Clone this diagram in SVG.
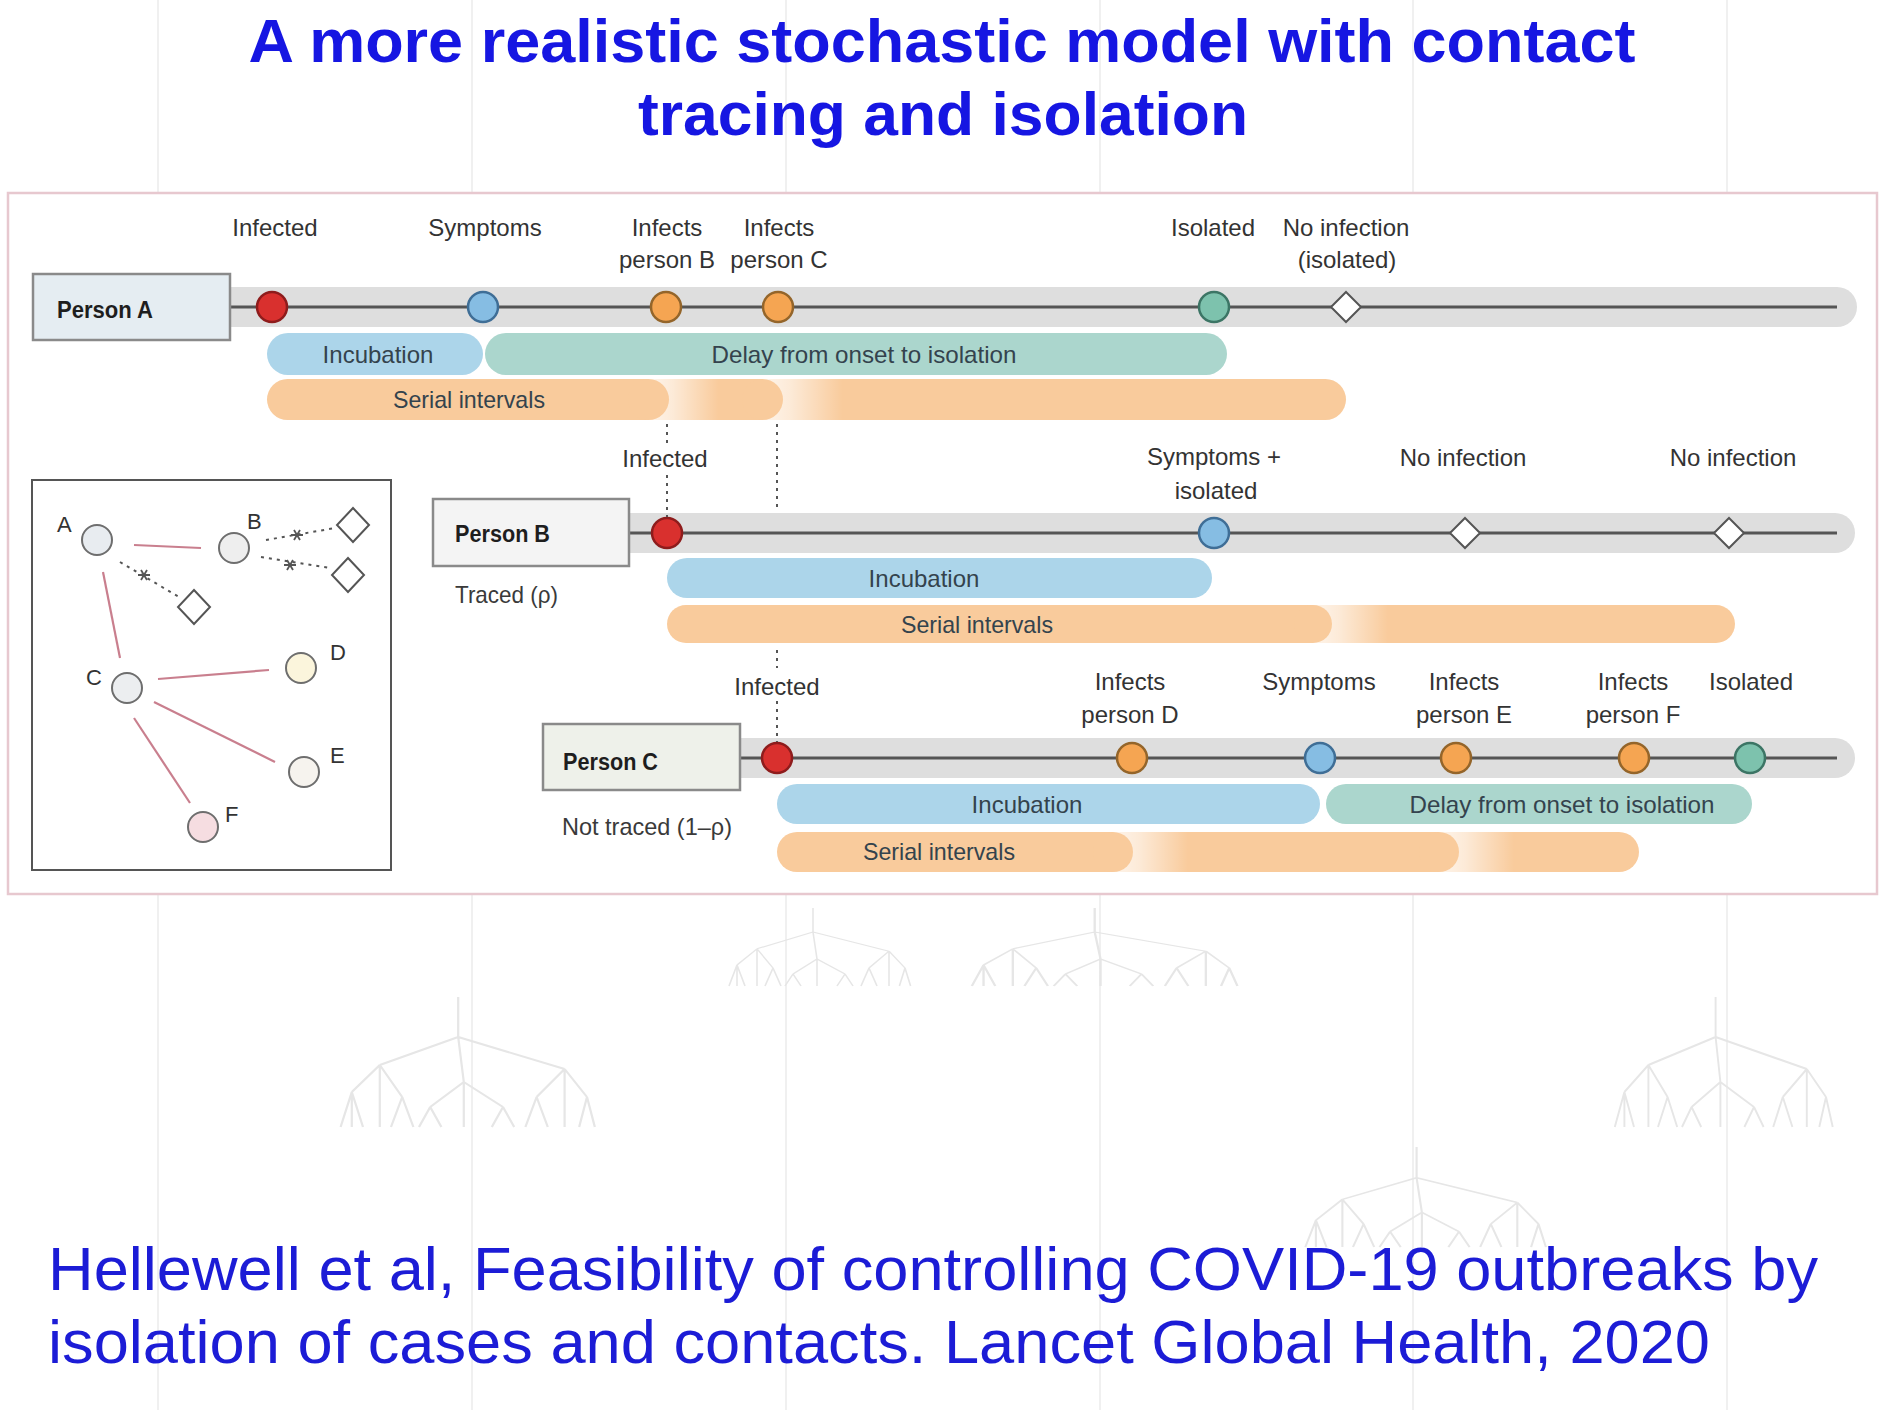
<svg xmlns="http://www.w3.org/2000/svg" xmlns:xlink="http://www.w3.org/1999/xlink" width="1882" height="1410" viewBox="0 0 1882 1410">
<style>
.lbl{font-family:"Liberation Sans",Arial,sans-serif;font-size:24px;fill:#333;text-anchor:middle}
.pill{font-family:"Liberation Sans",Arial,sans-serif;font-size:24px;fill:#34434d;text-anchor:middle}
.pname{font-family:"Liberation Sans",Arial,sans-serif;font-size:23px;font-weight:bold;fill:#1e1e1e}
.sub{font-family:"Liberation Sans",Arial,sans-serif;font-size:24px;fill:#3a3a3a}
.glbl{font-family:"Liberation Sans",Arial,sans-serif;font-size:22px;fill:#333}
.title{font-family:"Liberation Sans",Arial,sans-serif;font-size:62px;font-weight:bold;fill:#1616e2}
.cite{font-family:"Liberation Sans",Arial,sans-serif;font-size:61px;fill:#1c1cd6}
.band{fill:#dedede}
.axis{stroke:#555;stroke-width:3}
.box{stroke:#8a8a8a;stroke-width:2.5}
.inc{fill:#acd5ea}
.del{fill:#abd6cd}
.ser{fill:#f9cb9c}
.red{fill:#d9302e;stroke:#8e1c1c;stroke-width:2.5}
.blue{fill:#86bde3;stroke:#3f6e96;stroke-width:2.5}
.orange{fill:#f5a552;stroke:#94652a;stroke-width:2.5}
.teal{fill:#7dc2ad;stroke:#3c7565;stroke-width:2.5}
.dia{fill:#fff;stroke:#555;stroke-width:2}
.dot{stroke:#555;stroke-width:2;stroke-dasharray:3 5;fill:none}
.edge{stroke:#c97f8e;stroke-width:2.2}
.gnode{stroke:#6e6e6e;stroke-width:2}
.bgline{stroke:#f0f0f0;stroke-width:2}
.tree{fill:none;stroke:#e6e6e6;stroke-width:2}
</style>
<defs>
<linearGradient id="fade" x1="0" y1="0" x2="1" y2="0">
<stop offset="0" stop-color="#fff" stop-opacity="0.8"/>
<stop offset="0.35" stop-color="#fff" stop-opacity="0.6"/>
<stop offset="1" stop-color="#fff" stop-opacity="0"/>
</linearGradient>
<path id="tree" d="M110 0 V40 M110 40 L40 68 M110 40 L205 72 M110 40 L115 85 M40 68 L15 95 M40 68 L60 100 M40 68 V130 M15 95 V130 M15 95 L5 130 M15 95 L25 130 M60 100 L50 130 M60 100 L70 130 M115 85 L85 110 M115 85 L150 110 M115 85 V130 M85 110 L75 130 M85 110 L95 130 M150 110 L140 130 M150 110 L160 130 M205 72 L180 100 M205 72 L225 100 M205 72 V130 M180 100 L170 130 M180 100 L190 130 M225 100 L218 130 M225 100 L232 130"/>
<path id="star" d="M-6 0 H6 M-3 -5 L3 5 M3 -5 L-3 5"/>
</defs>

<rect width="1882" height="1410" fill="#fff"/>

<g id="background">
<line class="bgline" x1="158" y1="0" x2="158" y2="1410"/>
<line class="bgline" x1="472" y1="0" x2="472" y2="1410"/>
<line class="bgline" x1="786" y1="0" x2="786" y2="1410"/>
<line class="bgline" x1="1100" y1="0" x2="1100" y2="1410"/>
<line class="bgline" x1="1413" y1="0" x2="1413" y2="1410"/>
<line class="bgline" x1="1727" y1="0" x2="1727" y2="1410"/>
<use xlink:href="#tree" class="tree" transform="translate(335,997) scale(1.12,1)"/>
<use xlink:href="#tree" class="tree" transform="translate(1610,997) scale(0.96,1)"/>
<use xlink:href="#tree" class="tree" transform="translate(1300,1147) scale(1.06,0.77)"/>
<use xlink:href="#tree" class="tree" transform="translate(725,908) scale(0.8,0.6)"/>
<use xlink:href="#tree" class="tree" transform="translate(966,908) scale(1.17,0.6)"/>
</g>

<g id="title">
<text class="title" x="942" y="62" text-anchor="middle" textLength="1387" lengthAdjust="spacingAndGlyphs">A more realistic stochastic model with contact</text>
<text class="title" x="943" y="135" text-anchor="middle" textLength="610" lengthAdjust="spacingAndGlyphs">tracing and isolation</text>
</g>

<g id="panel">
<rect x="8" y="193" width="1869" height="701" fill="#fff" stroke="#e7c8cf" stroke-width="2.5"/>
</g>

<!-- Person A -->
<g id="personA">
<rect class="band" x="210" y="287" width="1647" height="40" rx="20"/>
<line class="axis" x1="230" y1="307" x2="1837" y2="307"/>
<rect class="box" x="33" y="274" width="197" height="66" fill="#e5edf2"/>
<text class="pname" x="57" y="318" textLength="96" lengthAdjust="spacingAndGlyphs">Person A</text>
<circle class="red" cx="272" cy="307" r="15"/>
<circle class="blue" cx="483" cy="307" r="15"/>
<circle class="orange" cx="666" cy="307" r="15"/>
<circle class="orange" cx="778" cy="307" r="15"/>
<circle class="teal" cx="1214" cy="307" r="15"/>
<polygon class="dia" points="1346,292 1361,307 1346,322 1331,307"/>
<text class="lbl" x="275" y="236">Infected</text>
<text class="lbl" x="485" y="236">Symptoms</text>
<text class="lbl" x="667" y="236">Infects</text>
<text class="lbl" x="667" y="268">person B</text>
<text class="lbl" x="779" y="236">Infects</text>
<text class="lbl" x="779" y="268">person C</text>
<text class="lbl" x="1213" y="236">Isolated</text>
<text class="lbl" x="1346" y="236">No infection</text>
<text class="lbl" x="1347" y="268">(isolated)</text>
<rect class="inc" x="267" y="333" width="216" height="42" rx="21"/>
<rect class="del" x="485" y="333" width="742" height="42" rx="21"/>
<text class="pill" x="378" y="363">Incubation</text>
<text class="pill" x="864" y="363" textLength="305" lengthAdjust="spacingAndGlyphs">Delay from onset to isolation</text>
<rect class="ser" x="267" y="379" width="1079" height="41" rx="20.5"/>
<rect x="648.5" y="379" width="70" height="41" fill="url(#fade)"/>
<circle class="ser" cx="648.5" cy="399.5" r="20.5"/>
<rect x="762.5" y="379" width="80" height="41" fill="url(#fade)"/>
<circle class="ser" cx="762.5" cy="399.5" r="20.5"/>
<text class="pill" x="469" y="408" textLength="152" lengthAdjust="spacingAndGlyphs">Serial intervals</text>
</g>

<!-- Person B -->
<g id="personB">
<rect class="band" x="610" y="513" width="1245" height="40" rx="20"/>
<line class="axis" x1="629" y1="533" x2="1837" y2="533"/>
<rect class="box" x="433" y="499" width="196" height="67" fill="#f4f4f4"/>
<text class="pname" x="455" y="542" textLength="95" lengthAdjust="spacingAndGlyphs">Person B</text>
<text class="sub" x="455" y="603" textLength="103" lengthAdjust="spacingAndGlyphs">Traced (ρ)</text>
<circle class="red" cx="667" cy="533" r="15"/>
<circle class="blue" cx="1214" cy="533" r="15"/>
<polygon class="dia" points="1465,518 1480,533 1465,548 1450,533"/>
<polygon class="dia" points="1729,518 1744,533 1729,548 1714,533"/>
<text class="lbl" x="665" y="467">Infected</text>
<text class="lbl" x="1214" y="465">Symptoms +</text>
<text class="lbl" x="1216" y="499">isolated</text>
<text class="lbl" x="1463" y="466">No infection</text>
<text class="lbl" x="1733" y="466">No infection</text>
<rect class="inc" x="667" y="558" width="545" height="40" rx="20"/>
<text class="pill" x="924" y="587">Incubation</text>
<rect class="ser" x="667" y="605" width="1068" height="38" rx="19"/>
<rect x="1313" y="605" width="75" height="38" fill="url(#fade)"/>
<circle class="ser" cx="1313" cy="624" r="19"/>
<text class="pill" x="977" y="633" textLength="152" lengthAdjust="spacingAndGlyphs">Serial intervals</text>
</g>

<!-- Person C -->
<g id="personC">
<rect class="band" x="720" y="738" width="1135" height="40" rx="20"/>
<line class="axis" x1="740" y1="758" x2="1837" y2="758"/>
<rect class="box" x="543" y="724" width="197" height="66" fill="#eef1ea"/>
<text class="pname" x="563" y="770" textLength="95" lengthAdjust="spacingAndGlyphs">Person C</text>
<text class="sub" x="562" y="835" textLength="170" lengthAdjust="spacingAndGlyphs">Not traced (1–ρ)</text>
<circle class="red" cx="777" cy="758" r="15"/>
<circle class="orange" cx="1132" cy="758" r="15"/>
<circle class="blue" cx="1320" cy="758" r="15"/>
<circle class="orange" cx="1456" cy="758" r="15"/>
<circle class="orange" cx="1634" cy="758" r="15"/>
<circle class="teal" cx="1750" cy="758" r="15"/>
<text class="lbl" x="777" y="695">Infected</text>
<text class="lbl" x="1130" y="690">Infects</text>
<text class="lbl" x="1130" y="723">person D</text>
<text class="lbl" x="1319" y="690">Symptoms</text>
<text class="lbl" x="1464" y="690">Infects</text>
<text class="lbl" x="1464" y="723">person E</text>
<text class="lbl" x="1633" y="690">Infects</text>
<text class="lbl" x="1633" y="723">person F</text>
<text class="lbl" x="1751" y="690">Isolated</text>
<rect class="inc" x="777" y="784" width="543" height="40" rx="20"/>
<rect class="del" x="1326" y="784" width="426" height="40" rx="20"/>
<text class="pill" x="1027" y="813">Incubation</text>
<text class="pill" x="1562" y="813" textLength="305" lengthAdjust="spacingAndGlyphs">Delay from onset to isolation</text>
<rect class="ser" x="777" y="832" width="862" height="40" rx="20"/>
<rect x="1113" y="832" width="75" height="40" fill="url(#fade)"/>
<circle class="ser" cx="1113" cy="852" r="20"/>
<rect x="1439" y="832" width="75" height="40" fill="url(#fade)"/>
<circle class="ser" cx="1439" cy="852" r="20"/>
<text class="pill" x="939" y="860" textLength="152" lengthAdjust="spacingAndGlyphs">Serial intervals</text>
</g>

<!-- Contact graph -->
<g id="contact-graph">
<rect x="32" y="480" width="359" height="390" fill="#fff" stroke="#555" stroke-width="2"/>
</g>

<g id="connectors">
<line class="dot" x1="667" y1="424" x2="667" y2="444"/>
<line class="dot" x1="667" y1="475" x2="667" y2="517"/>
<line class="dot" x1="777" y1="424" x2="777" y2="512"/>
<line class="dot" x1="777" y1="650" x2="777" y2="668"/>
<line class="dot" x1="777" y1="701" x2="777" y2="742"/>
<line class="edge" x1="134" y1="545" x2="201" y2="548"/>
<line class="edge" x1="103" y1="572" x2="120" y2="658"/>
<line class="edge" x1="158" y1="679" x2="269" y2="670"/>
<line class="edge" x1="154" y1="702" x2="275" y2="762"/>
<line class="edge" x1="134" y1="718" x2="190" y2="803"/>
<line class="dot" x1="266" y1="540" x2="335" y2="528"/>
<line class="dot" x1="261" y1="557" x2="330" y2="568"/>
<line class="dot" x1="120" y1="562" x2="179" y2="597"/>
<use xlink:href="#star" x="297" y="535" stroke="#555" stroke-width="1.8"/>
<use xlink:href="#star" x="290" y="565" stroke="#555" stroke-width="1.8"/>
<use xlink:href="#star" x="144" y="575" stroke="#555" stroke-width="1.8"/>
</g>

<g id="node-A"><circle class="gnode" cx="97" cy="540" r="15" fill="#e8ecf0"/><text class="glbl" x="57" y="532">A</text></g>
<g id="node-B"><circle class="gnode" cx="234" cy="548" r="15" fill="#eeeeee"/><text class="glbl" x="247" y="529">B</text></g>
<g id="node-C"><circle class="gnode" cx="127" cy="688" r="15" fill="#eceef0"/><text class="glbl" x="86" y="685">C</text></g>
<g id="node-D"><circle class="gnode" cx="301" cy="668" r="15" fill="#fbf5dc"/><text class="glbl" x="330" y="660">D</text></g>
<g id="node-E"><circle class="gnode" cx="304" cy="772" r="15" fill="#f6f3ee"/><text class="glbl" x="330" y="763">E</text></g>
<g id="node-F"><circle class="gnode" cx="203" cy="827" r="15" fill="#f6dde1"/><text class="glbl" x="225" y="822">F</text></g>
<g id="node-dB1"><polygon class="dia" points="353,508 369,525 353,542 337,525"/></g>
<g id="node-dB2"><polygon class="dia" points="348,558 364,575 348,592 332,575"/></g>
<g id="node-dA"><polygon class="dia" points="194,590 210,607 194,624 178,607"/></g>

<g id="citation">
<text class="cite" x="48" y="1290" textLength="1770" lengthAdjust="spacingAndGlyphs">Hellewell et al, Feasibility of controlling COVID-19 outbreaks by</text>
<text class="cite" x="48" y="1363" textLength="1662" lengthAdjust="spacingAndGlyphs">isolation of cases and contacts. Lancet Global Health, 2020</text>
</g>
</svg>
